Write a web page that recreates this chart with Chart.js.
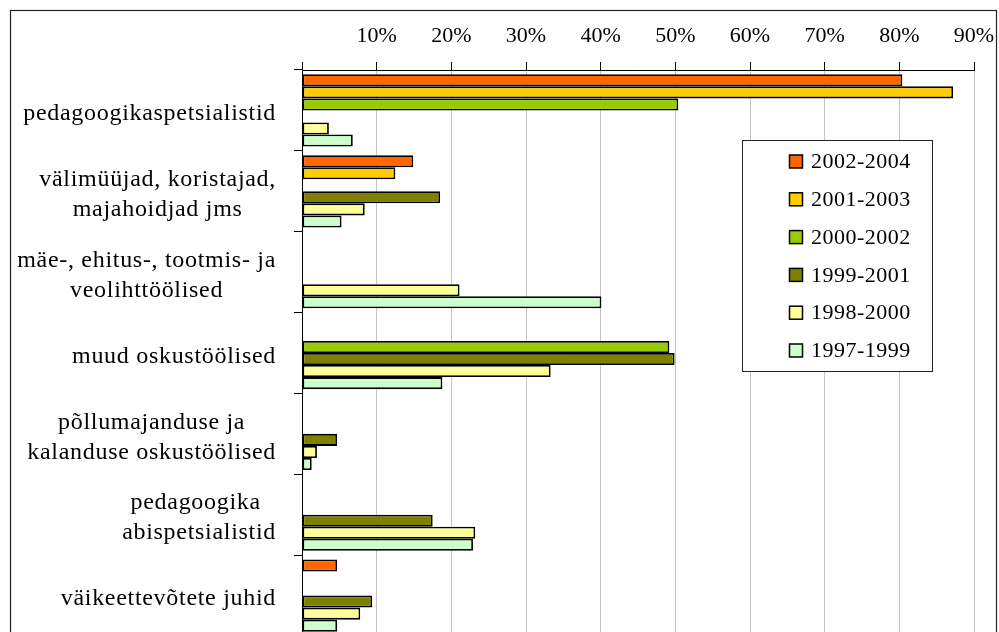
<!DOCTYPE html>
<html lang="et">
<head>
<meta charset="UTF-8">
<title>Ametirühmad</title>
<script src="https://cdn.jsdelivr.net/npm/chart.js"></script>
<style>
  html, body { margin: 0; padding: 0; overflow: hidden; background: #fff; }
  #wrap { position: absolute; left: 0; top: 0; width: 999px; height: 650px; }
</style>
</head>
<body>
<div id="wrap"><canvas id="chart" width="999" height="650"></canvas></div>
<script>
  // categories (multi-line, as in the original)
  const categories = [
    ['pedagoogikaspetsialistid'],
    ['välimüüjad, koristajad,', 'majahoidjad jms'],
    ['mäe-, ehitus-, tootmis- ja', 'veolihttöölised'],
    ['muud oskustöölised'],
    ['põllumajanduse ja', 'kalanduse oskustöölised'],
    ['pedagoogika ', 'abispetsialistid'],
    ['väikeettevõtete juhid']
  ];

  const periods = ['2002-2004', '2001-2003', '2000-2002', '1999-2001', '1998-2000', '1997-1999'];
  const colors  = ['#FF6600', '#FFCC00', '#99CC00', '#808000', '#FFFF99', '#CCFFCC'];

  // values in %, null = no bar
  const p2002_2004 = [80.4, 14.9, null, null, null, null, 4.7];
  const p2001_2003 = [87.2, 12.5, null, null, null, null, null];
  const p2000_2002 = [50.4, null, null, 49.2, null, null, null];
  const p1999_2001 = [null, 18.5, null, 49.9, 4.7, 17.5, 9.4];
  const p1998_2000 = [3.6, 8.4, 21.1, 33.3, 2.0, 23.2, 7.8];
  const p1997_1999 = [6.8, 5.3, 40.1, 18.8, 1.3, 22.9, 4.7];

  const seriesValues = [p2002_2004, p2001_2003, p2000_2002, p1999_2001, p1998_2000, p1997_1999];

  const FONT = '"Liberation Serif", "Times New Roman", serif';
  Chart.defaults.font.family = FONT;
  Chart.defaults.font.size = 22;
  Chart.defaults.color = '#000';

  // outer frame of the chart
  const frame = {
    id: 'frame',
    beforeDraw(chart) {
      const ctx = chart.ctx;
      ctx.save();
      ctx.fillStyle = '#fff';
      ctx.fillRect(0, 0, chart.width, chart.height);
      ctx.strokeStyle = '#222';
      ctx.lineWidth = 1.2;
      ctx.strokeRect(10.5, 10.5, 986, 700);
      ctx.restore();
    }
  };

  // category labels: block right-aligned, lines centred inside the block (Excel style)
  const catLabels = {
    id: 'catLabels',
    afterDraw(chart) {
      const ctx = chart.ctx, y = chart.scales.y;
      ctx.save();
      ctx.font = '24px ' + FONT;
      ctx.letterSpacing = '0.7px';
      ctx.fillStyle = '#000';
      ctx.textAlign = 'center';
      ctx.textBaseline = 'alphabetic';
      chart.data.labels.forEach((lines, i) => {
        const cy = y.getPixelForValue(i);
        const w = Math.max(...lines.map(l => ctx.measureText(l).width));
        const cx = 276 - w / 2;
        lines.forEach((l, k) => {
          ctx.fillText(l, cx, cy + 9.7 - (lines.length - 1) * 15 + k * 30);
        });
      });
      ctx.restore();
    }
  };

  // legend box inside the plot
  const boxLegend = {
    id: 'boxLegend',
    afterDraw(chart) {
      const ctx = chart.ctx;
      const x0 = 742.5, y0 = 140.5, w = 190, h = 231;
      ctx.save();
      ctx.fillStyle = '#fff';
      ctx.fillRect(x0, y0, w, h);
      ctx.strokeStyle = '#222';
      ctx.lineWidth = 1;
      ctx.strokeRect(x0, y0, w, h);
      ctx.font = '22px ' + FONT;
      ctx.letterSpacing = '0.5px';
      ctx.textBaseline = 'middle';
      ctx.textAlign = 'left';
      chart.data.datasets.forEach((ds, i) => {
        const ry = 161.5 + i * 37.8;
        ctx.fillStyle = ds.backgroundColor;
        ctx.fillRect(789.5, ry - 6.5, 13, 13);
        ctx.strokeStyle = '#000';
        ctx.lineWidth = 1.5;
        ctx.strokeRect(789.5, ry - 6.5, 13, 13);
        ctx.fillStyle = '#000';
        ctx.fillText(ds.label, 811, ry + 1);
      });
      ctx.restore();
    }
  };

  const datasets = periods.map((p, i) => ({
    label: p,
    data: seriesValues[i],
    backgroundColor: colors[i],
    borderColor: '#000',
    borderWidth: 1.8,
    borderSkipped: false,
    barPercentage: 1,
    categoryPercentage: 0.894
  }));

  new Chart(document.getElementById('chart'), {
    type: 'bar',
    data: { labels: categories, datasets: datasets },
    plugins: [frame, catLabels, boxLegend],
    options: {
      indexAxis: 'y',
      responsive: false,
      animation: false,
      layout: { padding: { left: 0, top: 0, right: 25, bottom: 14 } },
      plugins: {
        legend: { display: false },
        tooltip: { enabled: false }
      },
      scales: {
        x: {
          position: 'top',
          min: 0,
          max: 90,
          afterFit: s => { s.height = 70; s.paddingLeft = 0; s.paddingRight = 0; },
          ticks: {
            stepSize: 10,
            autoSkip: false,
            maxRotation: 0,
            padding: 13,
            callback: v => v === 0 ? '' : v + '%'
          },
          grid: { color: '#c4c4c4', lineWidth: 1, tickColor: '#000', tickLength: 8 },
          border: { display: true, color: '#000', width: 1 }
        },
        y: {
          afterFit: s => { s.width = 302; },
          ticks: { display: false },
          grid: { drawOnChartArea: false, tickColor: '#000', tickLength: 8, offset: true },
          border: { display: true, color: '#000', width: 1 }
        }
      }
    }
  });
</script>
</body>
</html>
